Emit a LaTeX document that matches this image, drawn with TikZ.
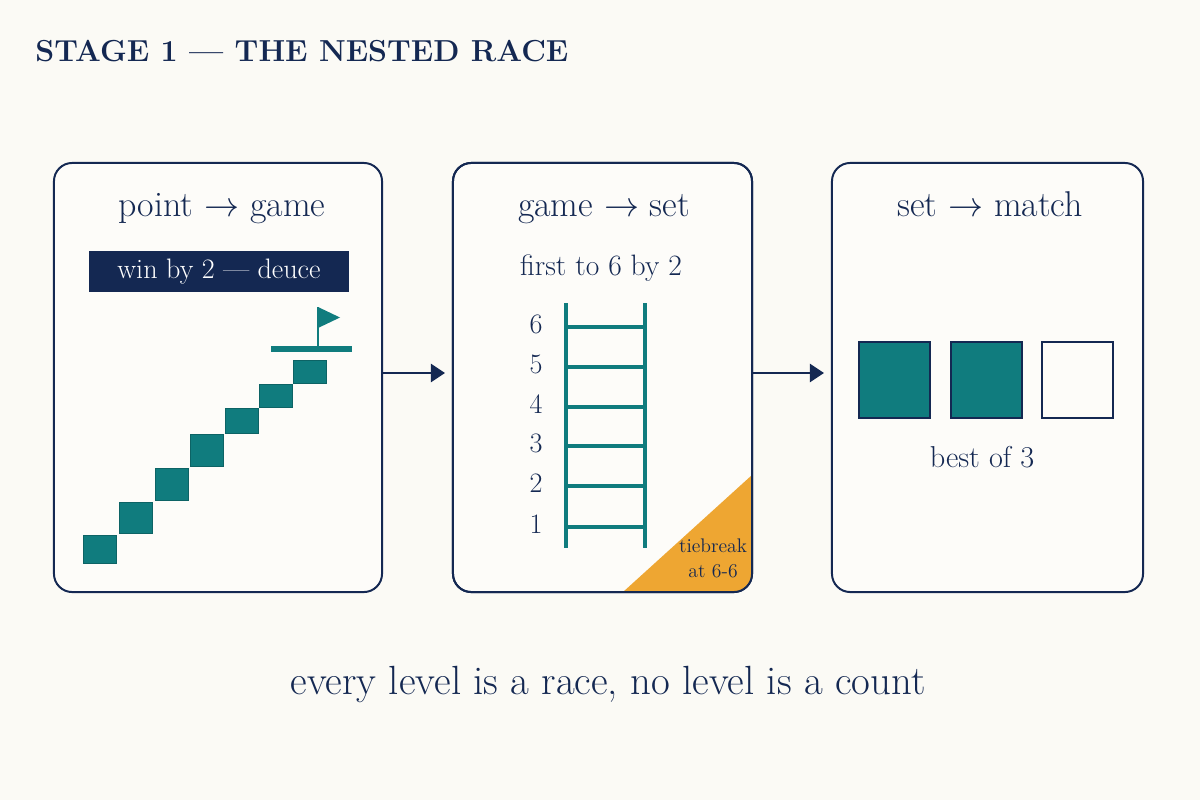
\documentclass[tikz,border=0pt]{standalone}
\usepackage{fontspec}
\usetikzlibrary{arrows.meta,positioning}

\definecolor{navy}{RGB}{20,40,82}
\definecolor{courtteal}{RGB}{16,124,126}
\definecolor{tieorange}{RGB}{238,166,50}
\definecolor{cream}{RGB}{251,250,245}
\definecolor{cardbg}{RGB}{253,252,249}

\tikzset{
  panel/.style={draw=navy,line width=1.4pt,fill=cardbg,rounded corners=13pt,
    minimum height=10.725cm,outer sep=0pt,inner sep=0pt},
  head/.style={text=navy,anchor=base,font=\fontsize{25.5}{30}\selectfont},
  sub/.style={text=navy,anchor=base,font=\fontsize{21}{25}\selectfont},
  link/.style={draw=navy,line width=1.4pt,-{Triangle[length=10pt,width=13pt]},shorten >=5.7pt},
  rail/.style={draw=courtteal,line width=3pt},
  rung/.style={draw=courtteal,line width=2.5pt}
}

\begin{document}
\begin{tikzpicture}[x=0.025cm,y=-0.025cm]
  \fill[cream] (0,0) rectangle (1200,800);
  \useasboundingbox (0,0) rectangle (1200,800);

  \node[anchor=base west,text=navy,inner sep=0pt,
    font=\fontsize{21.6}{26}\selectfont\bfseries\addfontfeatures{FakeStretch=0.86,LetterSpace=11}]
    (title) at (35,62) {STAGE 1 — THE NESTED RACE};

  \node[panel,minimum width=8.2cm] (p1) at (218,377.5) {};
  \node[panel,minimum width=7.475cm] (p2) at (602.5,377.5) {};
  \node[panel,minimum width=7.775cm] (p3) at (987.5,377.5) {};

  \draw[link] ([yshift=3.2pt]p1.east) -- ([yshift=3.2pt]p2.west);
  \draw[link] ([yshift=3.2pt]p2.east) -- ([yshift=3.2pt]p3.west);

  % point -> game
  \node[head] (h1) at (222,217) {point $\rightarrow$ game};
  \node[fill=navy,text=white,minimum width=6.5cm,minimum height=1.025cm,inner sep=0pt,
    font=\fontsize{20}{24}\selectfont] (deuce) at (219,271.5) {win by 2 — deuce};
  \foreach \x/\y/\h in {83/535/28,119/502/31,155/468/32,190/434/32,225/408/25,259/384/23,293/360/23}
    \draw[courtteal!80!black,line width=0.4pt,fill=courtteal] (\x,\y) rectangle +(33,\h);
  \fill[courtteal] (271,346) rectangle (352,352);
  \draw[courtteal,line width=1.6pt] (318,346) -- (318,307);
  \fill[courtteal] (318,307) -- (340,317.5) -- (318,328) -- cycle;

  % game -> set
  \node[head] (h2) at (604,217) {game $\rightarrow$ set};
  \node[sub] (s2) at (601,275) {first to 6 by 2};
  \draw[rail] (566,303) -- (566,548);
  \draw[rail] (645,303) -- (645,548);
  \foreach \n/\y in {6/327,5/367,4/407,3/446,2/486,1/527} {
    \draw[rung] (566,\y) -- (645,\y);
    \node[text=navy,font=\fontsize{20}{24}\selectfont] (d\n) at (536,\y-3) {\n};
  }
  \begin{scope}
    \clip[rounded corners=13pt] (p2.south west) rectangle (p2.north east);
    \fill[tieorange] (752,475) -- (752,592) -- (623,592) -- cycle;
  \end{scope}
  \draw[navy,line width=1.4pt,rounded corners=13pt] (p2.south west) rectangle (p2.north east);
  \node[text=navy,anchor=base,font=\fontsize{14}{16}\selectfont] (tb1) at (713,552) {tiebreak};
  \node[text=navy,anchor=base,font=\fontsize{14}{16}\selectfont] (tb2) at (713,577) {at 6-6};

  % set -> match
  \node[head] (h3) at (990,217) {set $\rightarrow$ match};
  \foreach \x/\c in {859/courtteal,951/courtteal,1042/cardbg}
    \draw[navy,line width=1.4pt,fill=\c] (\x,342) rectangle +(71,76);
  \node[text=navy,anchor=base,font=\fontsize{21.5}{25}\selectfont] (best) at (982,467) {best of 3};

  \node[text=navy,anchor=base,font=\fontsize{29}{34}\selectfont] (moral) at (608,694)
    {every level is a race, no level is a count};
\end{tikzpicture}
\end{document}
